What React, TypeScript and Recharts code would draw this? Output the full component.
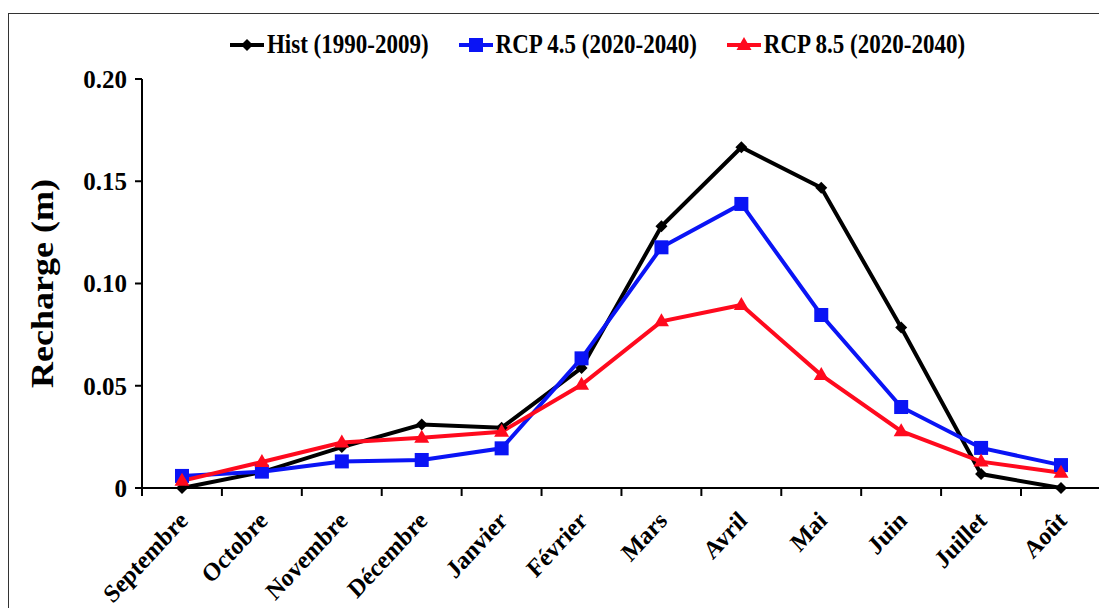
import { LineChart, Line, XAxis, YAxis, Legend } from 'recharts';

const months = ['Septembre', 'Octobre', 'Novembre', 'Décembre', 'Janvier', 'Février', 'Mars', 'Avril', 'Mai', 'Juin', 'Juillet', 'Août'];
const hist = [0, 0.0078, 0.02, 0.031, 0.0295, 0.0587, 0.128, 0.1666, 0.1468, 0.0785, 0.0068, 0];
const rcp45 = [0.0059, 0.008, 0.013, 0.0137, 0.0194, 0.0634, 0.1177, 0.1389, 0.0846, 0.0396, 0.0196, 0.0112];
const rcp85 = [0.0035, 0.0127, 0.0222, 0.0246, 0.0275, 0.0505, 0.0815, 0.0895, 0.0552, 0.0278, 0.0129, 0.0075];
const yTicks = [0, 0.05, 0.1, 0.15, 0.2];

const series = [
  { key: 'hist', name: 'Hist (1990-2009)', color: '#000000', shape: 'diamond' },
  { key: 'rcp45', name: 'RCP 4.5 (2020-2040)', color: '#0a14f5', shape: 'square' },
  { key: 'rcp85', name: 'RCP 8.5 (2020-2040)', color: '#ff0a1e', shape: 'triangle' },
];

const data = months.map((m, i) => ({ month: m, hist: hist[i], rcp45: rcp45[i], rcp85: rcp85[i] }));

const FONT = '"Liberation Serif", "Times New Roman", serif';
const HALF_BAND = 40; // same as the x padding, so tick marks fall between months

function Marker({ cx, cy, shape, color }: any) {
  if (cx == null || cy == null) return null;
  if (shape === 'diamond') {
    return <polygon points={`${cx},${cy - 6} ${cx + 6},${cy} ${cx},${cy + 6} ${cx - 6},${cy}`} fill={color} />;
  }
  if (shape === 'square') {
    return <rect x={cx - 7} y={cy - 7} width={14} height={14} fill={color} />;
  }
  return <polygon points={`${cx},${cy - 8} ${cx + 7.5},${cy + 5} ${cx - 7.5},${cy + 5}`} fill={color} />;
}

function LegendContent() {
  return (
    <div style={{ display: 'flex', justifyContent: 'center', fontFamily: FONT, fontWeight: 'bold', fontSize: 23, paddingLeft: 116 }}>
      {series.map((s) => (
        <div key={s.key} style={{ display: 'flex', alignItems: 'center', marginRight: 30 }}>
          <svg width={34} height={20} style={{ marginRight: 3 }}>
            <line x1={0} y1={10} x2={34} y2={10} stroke={s.color} strokeWidth={4} />
            <Marker cx={17} cy={10} shape={s.shape} color={s.color} />
          </svg>
          <span style={{ display: 'inline-block', transform: 'scaleY(1.15)' }}>{s.name}</span>
        </div>
      ))}
    </div>
  );
}

function MonthTick({ x, y, payload, visibleTicksCount }: any) {
  const last = payload.index === visibleTicksCount - 1;
  return (
    <g>
      <line x1={x - HALF_BAND} y1={y} x2={x - HALF_BAND} y2={y + 8} stroke="#000" strokeWidth={2} />
      {last && <line x1={x + HALF_BAND} y1={y} x2={x + HALF_BAND} y2={y + 8} stroke="#000" strokeWidth={2} />}
      <g transform={`translate(${x + 7},${y + 34}) scale(1,1.08) rotate(-45)`}>
        <text x={0} y={0} textAnchor="end" fontFamily={FONT} fontWeight="bold" fontSize={23.5} fill="#000">
          {payload.value}
        </text>
      </g>
    </g>
  );
}

function YLabel({ viewBox }: any) {
  const x = viewBox.x + 34;
  const y = viewBox.y + viewBox.height / 2;
  return (
    <text x={x} y={y} transform={`rotate(-90, ${x}, ${y})`} textAnchor="middle" dominantBaseline="central" fontFamily={FONT} fontWeight="bold" fontSize={31} fill="#000" textLength={209} lengthAdjust="spacingAndGlyphs">
      Recharge (m)
    </text>
  );
}

export default function App() {
  return (
    <div style={{ position: 'relative', width: 1099, height: 600 }}>
      <div style={{ position: 'absolute', left: 0, top: 5, width: 1099, height: 600, borderTop: '1.5px solid #333', borderLeft: '1.5px solid #333' }} />
      <LineChart width={1099} height={600} data={data} margin={{ top: 20, right: 6, bottom: 0, left: 0 }}>
        <Legend verticalAlign="top" height={51} content={<LegendContent />} wrapperStyle={{ top: 24 }} />
        <XAxis
          dataKey="month"
          type="category"
          padding={{ left: HALF_BAND, right: HALF_BAND }}
          stroke="#000"
          strokeWidth={2}
          tickLine={false}
          tickSize={0}
          tickMargin={0}
          tick={<MonthTick />}
          height={120}
          interval={0}
        />
        <YAxis
          domain={[0, 0.2]}
          ticks={yTicks}
          width={134}
          tickSize={7}
          tickMargin={8}
          stroke="#000"
          strokeWidth={2}
          tickFormatter={(v: number) => (v === 0 ? '0' : v.toFixed(2))}
          tick={{ fontFamily: FONT, fontWeight: 'bold', fontSize: 25, fill: '#000' }}
          label={<YLabel />}
        />
        {series.map((s) => (
          <Line
            key={s.key}
            dataKey={s.key}
            name={s.name}
            stroke={s.color}
            strokeWidth={4}
            isAnimationActive={false}
            dot={(p: any) => <Marker key={`${s.key}-${p.index}`} cx={p.cx} cy={p.cy} shape={s.shape} color={s.color} />}
            activeDot={false}
          />
        ))}
      </LineChart>
    </div>
  );
}
